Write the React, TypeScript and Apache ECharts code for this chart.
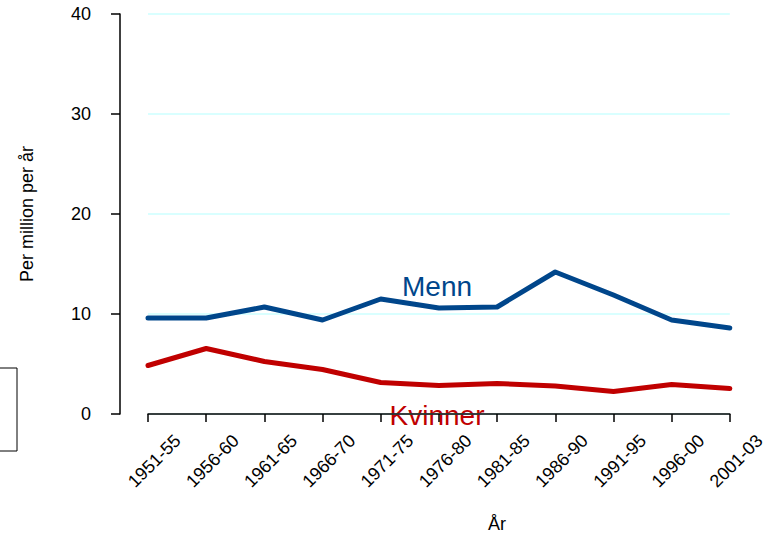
import React, { useEffect, useRef } from "react";
import * as echarts from "echarts";

const categories = ["1951-55", "1956-60", "1961-65", "1966-70", "1971-75", "1976-80", "1981-85", "1986-90", "1991-95", "1996-00", "2001-03"];
const menn = [9.6, 9.6, 10.7, 9.4, 11.5, 10.6, 10.7, 14.2, 11.9, 9.4, 8.6];
const kvinner = [4.85, 6.55, 5.25, 4.45, 3.15, 2.85, 3.05, 2.8, 2.25, 2.95, 2.55];
const yTicks = [0, 10, 20, 30, 40];

const FONT = "Liberation Sans, Arial, sans-serif";
const BLUE = "#00468B";
const RED = "#C00000";

export default function App() {
  const ref = useRef<HTMLDivElement>(null);
  useEffect(() => {
    if (!ref.current) return;
    const chart = echarts.init(ref.current, null, { renderer: "svg" });
    chart.setOption({
      animation: false,
      backgroundColor: "#ffffff",
      textStyle: { fontFamily: FONT },
      grid: { left: 148, right: 38, top: 14, bottom: 123, containLabel: false },
      xAxis: {
        type: "category",
        data: categories,
        boundaryGap: false,
        offset: 16,
        axisLine: { show: true, lineStyle: { color: "#000", width: 1.5 } },
        axisTick: { show: true, length: 8, alignWithLabel: true, lineStyle: { color: "#000", width: 1.5 } },
        axisLabel: {
          rotate: 45,
          interval: 0,
          margin: -22,
          fontSize: 18,
          color: "#000",
          fontFamily: FONT,
          align: "right",
          verticalAlign: "top",
          padding: [33, 0, 0, 0],
        },
        splitLine: { show: false },
      },
      yAxis: {
        type: "value",
        min: yTicks[0],
        max: yTicks[yTicks.length - 1],
        interval: 10,
        offset: 28,
        name: "Per million per år",
        nameLocation: "middle",
        nameGap: 84,
        nameTextStyle: { fontSize: 18, color: "#000", fontFamily: FONT },
        axisLine: { show: true, lineStyle: { color: "#000", width: 1.5 } },
        axisTick: { show: true, length: 9, lineStyle: { color: "#000", width: 1.5 } },
        axisLabel: { fontSize: 18, color: "#000", margin: 29, fontFamily: FONT },
        splitLine: { show: true, lineStyle: { color: "#ccffff", width: 1.5 } },
      },
      series: [
        {
          name: "Menn",
          type: "line",
          data: menn,
          symbol: "none",
          lineStyle: { color: BLUE, width: 5, cap: "round", join: "round" },
          itemStyle: { color: BLUE },
        },
        {
          name: "Kvinner",
          type: "line",
          data: kvinner,
          symbol: "none",
          lineStyle: { color: RED, width: 5, cap: "round", join: "round" },
          itemStyle: { color: RED },
        },
      ],
      graphic: [
        {
          type: "text",
          x: 437,
          y: 286,
          style: { text: "Menn", fill: BLUE, font: `28px ${FONT}`, textAlign: "center", textVerticalAlign: "middle" },
        },
        {
          type: "text",
          x: 437,
          y: 415,
          style: { text: "Kvinner", fill: RED, font: `28px ${FONT}`, textAlign: "center", textVerticalAlign: "middle" },
        },
        {
          type: "text",
          x: 497,
          y: 524,
          style: { text: "År", fill: "#000", font: `18px ${FONT}`, textAlign: "center", textVerticalAlign: "middle" },
        },
        {
          type: "rect",
          shape: { x: -20, y: 368, width: 37, height: 83 },
          style: { fill: "none", stroke: "#000", lineWidth: 1 },
        },
      ],
    });
    return () => chart.dispose();
  }, []);
  return <div ref={ref} style={{ position: "fixed", left: 0, top: 0, width: 768, height: 537 }} />;
}
